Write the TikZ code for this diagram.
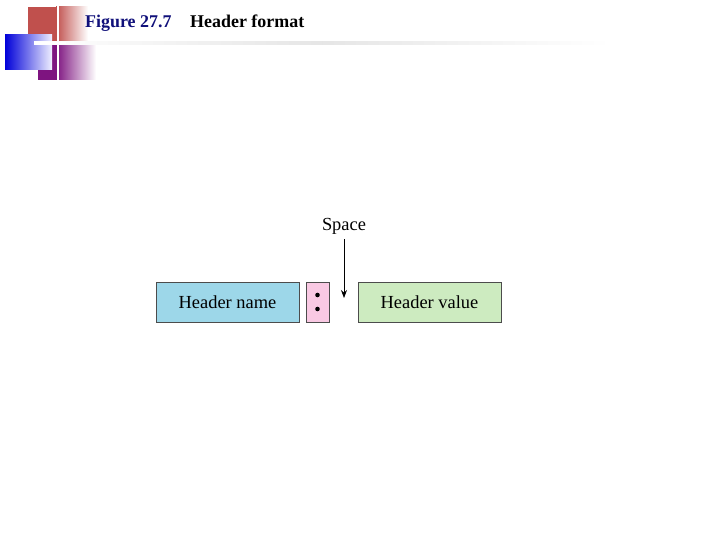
\documentclass[tikz,border=0pt]{standalone}
\usepackage{fontspec}
\setmainfont{Liberation Serif}
\usepackage{tikz}
\usetikzlibrary{positioning,arrows.meta}
\definecolor{namecol}{HTML}{9DD7E9}
\definecolor{colcol}{HTML}{F9C9E3}
\definecolor{valcol}{HTML}{CDEBC0}
\definecolor{titleblue}{HTML}{10107A}
\definecolor{brick}{HTML}{C0504D}
\definecolor{plum}{HTML}{7E1480}
\tikzset{
    field/.style={draw=black!70,line width=0.6pt,minimum height=40bp,inner sep=0pt,font=\fontsize{18.5}{20}\selectfont},
    every label/.append style={black}
}

\begin{document}
\begin{tikzpicture}[x=1bp,y=-1bp]
    \useasboundingbox (0,0) rectangle (720,540);
    % corner decoration
    \shade[left color=brick, right color=white] (56,7) rectangle (88,42);
    \fill[brick] (28,7) rectangle (56,42);
    \shade[left color=plum, right color=white] (56,45) rectangle (96,80);
    \fill[plum] (38,45) rectangle (56,80);
    \shade[left color=blue!85!black, right color=blue!6] (5,35) rectangle (52,70);
    \draw[white,line width=2.5bp] (58,0) -- (58,82);
    \shade[left color=white, right color=white, middle color=black!10] (34,42) rectangle (610,45);
    \draw[white,line width=1.5bp] (34,43) -- (66,43);
    % title
    \node[anchor=base west,font=\bfseries\fontsize{18}{20}\selectfont,text=titleblue,inner sep=0pt] (fig) at (85,28) {Figure 27.7};
    \node[anchor=base west,font=\bfseries\fontsize{18}{20}\selectfont,inner sep=0pt] (title) at (190,28) {Header format};
    % header line
    \node[field,fill=namecol,minimum width=143bp] (name) at (227.5,302) {Header name};
    \node[field,fill=colcol,minimum width=23bp] (colon) at (317.5,302) {};
    \fill (colon.center) ++(0,-7) circle (2.3bp);
    \fill (colon.center) ++(0,7) circle (2.3bp);
    \node[field,fill=valcol,minimum width=143bp] (value) at (429.5,302) {Header value};
    \coordinate (gap) at (344,298);
    \node[font=\fontsize{18.5}{20}\selectfont,inner sep=1pt] (space) at (344,226) {Space};
    \draw[-{Stealth[length=8bp,width=6bp]},line width=0.7bp] (space.south) ++(0,4) -- (gap);
\end{tikzpicture}
\end{document}
